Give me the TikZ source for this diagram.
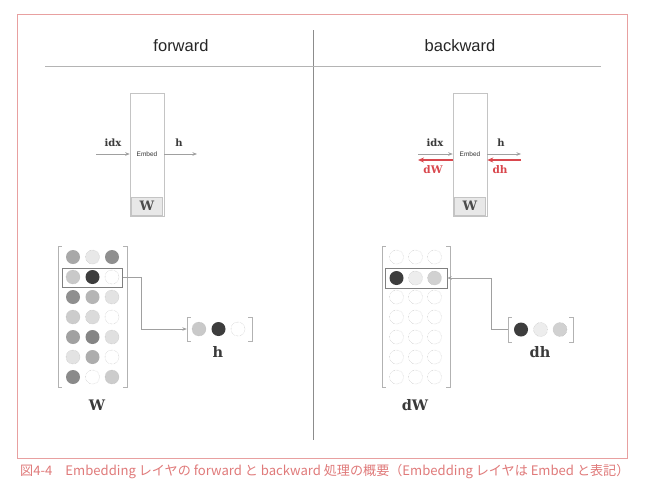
\documentclass[tikz,border=0pt]{standalone}
\usepackage{fontspec}
\setmainfont{DejaVu Serif}
\setsansfont{Liberation Sans}
\newfontfamily\cjk{Noto Sans CJK JP}
\usetikzlibrary{arrows.meta}
\definecolor{framered}{HTML}{E8A0A0}
\definecolor{capred}{HTML}{E07A7A}
\definecolor{arrred}{HTML}{D9484E}
\definecolor{lgrey}{HTML}{C4C4C4}
\definecolor{agrey}{HTML}{A0A0A0}
\definecolor{dgrey}{HTML}{8C8C8C}
\definecolor{hgrey}{HTML}{B4B4B4}
\definecolor{labgrey}{HTML}{3A3A3A}
\tikzset{
  title/.style={font=\sffamily\fontsize{16.5}{18}\selectfont, text=black!85, inner sep=0pt},
  embed/.style={draw=lgrey, line width=0.5pt, minimum width=34pt, minimum height=123pt, inner sep=0pt, font=\sffamily\fontsize{6.5}{7}\selectfont, text=black!80},
  wbox/.style={draw=lgrey, fill=black!9, line width=0.5pt, minimum width=31pt, minimum height=18pt, inner sep=0pt, font=\bfseries\fontsize{13}{14}\selectfont, text=black!70},
  garrow/.style={draw=agrey, line width=0.6pt, -{Stealth[length=4.5pt,width=3.5pt]}},
  rarrow/.style={draw=arrred, line width=1.1pt, -{Stealth[length=6pt,width=5pt]}},
  slabel/.style={font=\bfseries\fontsize{10}{11}\selectfont, text=labgrey, inner sep=0pt},
  rlabel/.style={font=\bfseries\fontsize{10.5}{11}\selectfont, text=arrred, inner sep=0pt},
  blabel/.style={font=\bfseries\fontsize{14.5}{16}\selectfont, text=labgrey, inner sep=0pt},
  cell/.style={circle, minimum size=14pt, inner sep=0pt},
  fc/.style={fill=black!#1},
  lc/.style={fill=black!#1, draw=black!30, densely dotted, line width=0.4pt},
  ec/.style={fill=white, draw=black!30, densely dotted, line width=0.4pt},
  mat/.style={inner sep=0pt},
  brk/.style={draw=black!30, line width=0.6pt},
  sel/.style={draw=black!50, line width=0.6pt, inner sep=0pt},
  caption/.style={font=\cjk\fontsize{13.1}{14}\selectfont, text=capred, inner sep=0pt}
}
\newcommand{\brackets}[2]{%
  \draw[brk] ([xshift=#2]#1.north west) -- (#1.north west) -- (#1.south west) -- ([xshift=#2]#1.south west);
  \draw[brk] ([xshift=-#2]#1.north east) -- (#1.north east) -- (#1.south east) -- ([xshift=-#2]#1.south east);}
\begin{document}
\begin{tikzpicture}[x=1pt,y=-1pt]
\useasboundingbox (0,0) rectangle (652,499);
\fill[white] (0,0) rectangle (652,499);
% frame and dividers
\draw[framered, line width=1pt] (17,14) rectangle (627,458);
\draw[dgrey, line width=0.6pt] (313.5,30) -- (313.5,440);
\draw[hgrey, line width=0.6pt] (45,66) -- (601,66);
\node[title] (tf) at (181,46) {forward};
\node[title] (tb) at (460,46) {backward};

% ---------- forward: Embed block ----------
\node[embed] (E1) at (147,154.5) {Embed};
\node[wbox, anchor=south] (W1) at ([yshift=1pt]E1.south) {W};
\coordinate (fi) at (96,154);
\coordinate (fo) at (197,154);
\draw[garrow] (fi) -- (fi -| E1.west);
\draw[garrow] (E1.east |- fo) -- (fo);
\node[slabel] (lidx1) at (113,143) {idx};
\node[slabel] (lh1) at (179,143) {h};

% ---------- backward: Embed block ----------
\node[embed] (E2) at (470,154.5) {Embed};
\node[wbox, anchor=south] (W2) at ([yshift=1pt]E2.south) {W};
\coordinate (bi) at (418,154);
\coordinate (bdw) at (418,160);
\coordinate (bo) at (521,154);
\coordinate (bdh) at (521,160);
\draw[garrow] (bi) -- (bi -| E2.west);
\draw[rarrow] (bdw -| E2.west) -- (bdw);
\draw[garrow] (E2.east |- bo) -- (bo);
\draw[rarrow] (bdh) -- (bdh -| E2.east);
\node[slabel] (lidx2) at (435,143) {idx};
\node[slabel] (lh2) at (501,143) {h};
\node[rlabel] (ldw) at (433,170) {dW};
\node[rlabel] (ldh) at (500,170) {dh};

% ---------- forward: W matrix ----------
\node[mat, minimum width=69pt, minimum height=141pt] (WM) at (92.5,316.5) {};
\brackets{WM}{4pt}
\node[cell,fc=34] (wa1) at (73,257) {};
\node[cell,lc=9]  (wb1) at (92.5,257) {};
\node[cell,fc=44] (wc1) at (112,257) {};
\node[cell,lc=21] (wa2) at (73,277) {};
\node[cell,fc=76] (wb2) at (92.5,277) {};
\node[cell,ec]    (wc2) at (112,277) {};
\node[cell,fc=44] (wa3) at (73,297) {};
\node[cell,fc=29] (wb3) at (92.5,297) {};
\node[cell,lc=11] (wc3) at (112,297) {};
\node[cell,lc=20] (wa4) at (73,317) {};
\node[cell,lc=14] (wb4) at (92.5,317) {};
\node[cell,ec]    (wc4) at (112,317) {};
\node[cell,fc=37] (wa5) at (73,337) {};
\node[cell,fc=48] (wb5) at (92.5,337) {};
\node[cell,lc=12] (wc5) at (112,337) {};
\node[cell,lc=11] (wa6) at (73,357) {};
\node[cell,fc=32] (wb6) at (92.5,357) {};
\node[cell,ec]    (wc6) at (112,357) {};
\node[cell,fc=46] (wa7) at (73,377) {};
\node[cell,ec]    (wb7) at (92.5,377) {};
\node[cell,lc=20] (wc7) at (112,377) {};
\node[sel, minimum width=60pt, minimum height=19pt] (sel1) at (92.5,277.5) {};
% h vector
\node[mat, minimum width=65pt, minimum height=24pt] (hv) at (219.5,329) {};
\brackets{hv}{4pt}
\node[cell,lc=21] (ha) at (199,329) {};
\node[cell,fc=76] (hb) at (218.5,329) {};
\node[cell,ec]    (hc) at (238,329) {};
\draw[garrow] (sel1.east) -- ++(18,0) |- (hv.west);
\node[blabel] (lh) at (218,352) {h};
\node[blabel] (lW) at (97,405) {W};

% ---------- backward: dW matrix ----------
\node[mat, minimum width=68pt, minimum height=141pt] (dWM) at (416,316.5) {};
\brackets{dWM}{4pt}
\foreach \r in {1,3,4,5,6,7}{
  \node[cell,ec] (da\r) at (396.5,237+20*\r) {};
  \node[cell,ec] (db\r) at (415.5,237+20*\r) {};
  \node[cell,ec] (dc\r) at (434.5,237+20*\r) {};
}
\node[cell,fc=76] (da2) at (396.5,278) {};
\node[cell,lc=7]  (db2) at (415.5,278) {};
\node[cell,lc=18] (dc2) at (434.5,278) {};
\node[sel, minimum width=62pt, minimum height=20pt] (sel2) at (416,278) {};
% dh vector
\node[mat, minimum width=65pt, minimum height=25pt] (dhv) at (540.5,329.5) {};
\brackets{dhv}{4pt}
\node[cell,fc=76] (dha) at (521,329.5) {};
\node[cell,lc=7]  (dhb) at (540.5,329.5) {};
\node[cell,lc=18] (dhc) at (560,329.5) {};
\draw[garrow] (dhv.west) -- ++(-17,0) |- (sel2.east);
\node[blabel] (ldhb) at (540,352) {dh};
\node[blabel] (ldWb) at (415,405) {dW};

% caption
\node[caption, anchor=west] (cap) at (20,472) {図4-4　Embedding レイヤの forward と backward 処理の概要（Embedding レイヤは Embed と表記）};
\end{tikzpicture}
\end{document}
